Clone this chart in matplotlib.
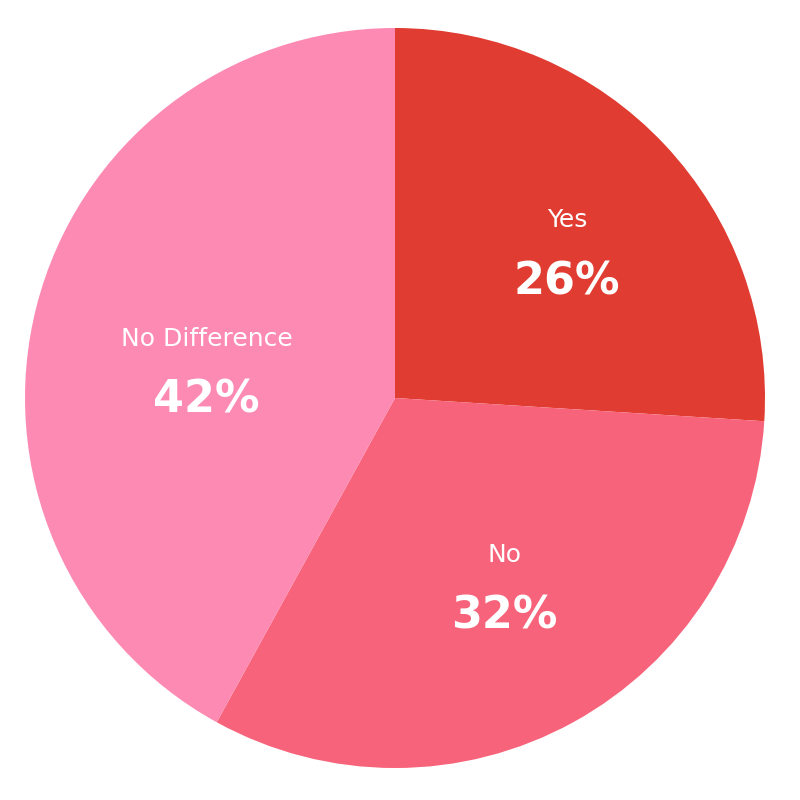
import numpy as np
import matplotlib.pyplot as plt

labels = ["Yes", "No", "No Difference"]
shares = [26, 32, 42]
colors = ["#E03C31", "#F7637A", "#FD8AB3"]

fig = plt.figure(figsize=(8, 8), dpi=100)
# axes placed so that the pie (radius 1) has radius 370 px, centred at (395, 398)
ax = fig.add_axes([0.03125, 0.04, 0.925, 0.925])

wedges, _ = ax.pie(shares, colors=colors, startangle=90, counterclock=False,
                   radius=1, wedgeprops=dict(linewidth=0))
ax.set_xlim(-1, 1)
ax.set_ylim(-1, 1)
ax.set_aspect("equal")
ax.axis("off")

# label radius (fraction of pie radius) and angle nudge in degrees per slice
label_r = [0.612, 0.585, 0.515]
label_turn = [-2.6, 1.5, 5.6]
for w, name, pct, r, turn in zip(wedges, labels, shares, label_r, label_turn):
    mid = np.deg2rad((w.theta1 + w.theta2) / 2 + turn)
    x, y = r * np.cos(mid), r * np.sin(mid)
    ax.text(x, y + 0.082, name, ha="center", va="center", color="white",
            fontsize=18, family="DejaVu Sans")
    ax.text(x, y - 0.085, f"{pct}%", ha="center", va="center", color="white",
            fontsize=32, fontweight="bold", family="DejaVu Sans")

fig.savefig("out.png", dpi=100, facecolor="white")
